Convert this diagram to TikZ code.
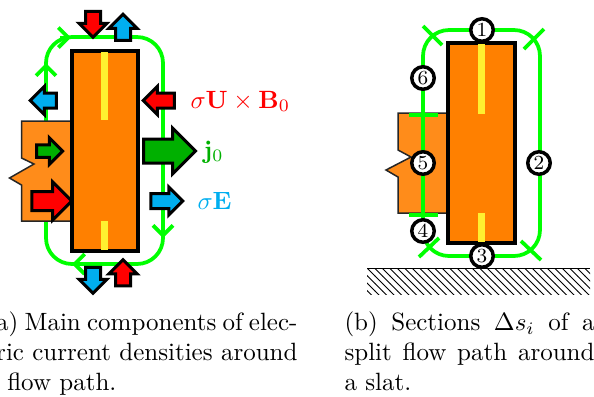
\documentclass[tikz,border=0pt]{standalone}
\usepackage{amsmath}
\usetikzlibrary{arrows.meta,shapes.arrows,patterns}

\definecolor{slatorange}{HTML}{FF8000}
\definecolor{stuborange}{HTML}{FF8C1A}
\definecolor{flowgreen}{HTML}{00FF00}
\definecolor{jgreen}{HTML}{00B000}
\definecolor{eblue}{HTML}{00AEEF}
\definecolor{stripeyellow}{HTML}{FFF030}

\tikzstyle{slat} = [draw=black,line width=1.3pt,fill=slatorange,line join=miter]
\tikzstyle{stub} = [draw=black!85,line width=0.6pt,fill=stuborange]
\tikzstyle{stripe} = [fill=stripeyellow]
\tikzstyle{flow} = [draw=flowgreen,line width=1.5pt]
\tikzstyle{barb} = [flow,-{Straight Barb[length=4pt,width=8pt]}]
\tikzstyle{flux} = [single arrow,draw=black,line width=1.2pt,inner sep=2.4pt,single arrow head extend=2.6pt,minimum height=10.4pt]
\tikzstyle{section} = [circle,draw=black,line width=1.4pt,fill=white,inner sep=0pt,minimum size=9pt,font=\footnotesize]
\tikzstyle{caption} = [anchor=north west,inner sep=0pt,align=justify,font=\normalsize]

\begin{document}
\begin{tikzpicture}[x=0.4pt,y=-0.4pt]
	\clip (0,0) rectangle (594,396);

	\draw[flow,rounded corners=10.4pt] (46,37) rectangle (163,264);
	\draw[barb] (60,37.5) -- (71,37.5);
	\draw[barb] (46,75) -- (46,63);
	\draw[barb] (163,226) -- (163,238);
	\draw[barb] (84,264) -- (72,264);

	\draw[stub] (72,121) -- (21.5,121) -- (21.5,158) -- (34,164) -- (9.5,178) -- (21.5,185) -- (21.5,221) -- (72,221) -- cycle;
	\draw[slat] (72,51) rectangle (138,251);
	\fill[stripe] (101,52) rectangle (108,120);
	\fill[stripe] (101,221) rectangle (108,250);

	\node[flux,fill=red,shape border rotate=270] (adown) at (93,20.5) {};
	\node[flux,fill=eblue,shape border rotate=90] (aup) at (123,31) {};
	\node[flux,fill=eblue,shape border rotate=180] (aleft) at (47,100.5) {};
	\node[flux,fill=red,shape border rotate=180,minimum height=12.4pt] (aright) at (162.5,100.5) {};
	\node[flux,fill=jgreen,minimum height=20.8pt,inner sep=4.2pt,single arrow head extend=4.4pt] (ajet) at (163.5,151) {};
	\node[flux,fill=eblue,minimum height=12.8pt] (afield) at (163,201) {};
	\node[flux,fill=jgreen,inner sep=1.9pt,single arrow head extend=2.8pt] (bjet) at (46.5,151) {};
	\node[flux,fill=red,minimum height=16pt,inner sep=3.2pt,single arrow head extend=3.8pt] (bforce) at (47,201) {};
	\node[flux,fill=eblue,shape border rotate=270] (cdown) at (93,276.5) {};
	\node[flux,fill=red,shape border rotate=90] (cup) at (123,276.5) {};

	\node[text=red,anchor=base west,inner sep=0pt] (lforce) at (190,108) {$\sigma\mathbf{U}\times\mathbf{B}_0$};
	\node[text=jgreen,anchor=base west,inner sep=0pt] (ljet) at (203,158) {$\mathbf{j}_0$};
	\node[text=eblue,anchor=base west,inner sep=0pt] (lfield) at (197,209) {$\sigma\mathbf{E}$};

	\fill[pattern=north west lines] (367,268) rectangle (590,294);
	\draw[line width=0.4pt] (367,268) -- (590,268);

	\draw[stub] (448,113) -- (398,113) -- (398,150) -- (411,157) -- (386,170) -- (398,177) -- (398,213) -- (448,213) -- cycle;
	\draw[flow,rounded corners=10.4pt] (423,30) rectangle (540,256);
	\draw[slat] (448,43) rectangle (515,243);
	\fill[stripe] (478,44) rectangle (485,114);
	\fill[stripe] (478,213) rectangle (485,242);

	\draw[flow] (409,115) -- (438,115);
	\draw[flow] (409,215) -- (438,215);
	\draw[flow] (423,26) -- (442,45);
	\draw[flow] (544,29) -- (524,49);
	\draw[flow] (521,241) -- (541,260);
	\draw[flow] (439,238) -- (419,257);

	\node[section] (s1) at (482,30) {1};
	\node[section] (s2) at (539,163) {2};
	\node[section] (s3) at (482,256) {3};
	\node[section] (s4) at (423,231) {4};
	\node[section] (s5) at (423,163) {5};
	\node[section] (s6) at (423,78) {6};

	\node[caption,text width=124.4pt] (capa) at (-14,311) {(a) Main components of elec-\linebreak tric current densities around a flow path.};
	\node[caption,text width=100pt] (capb) at (344,311) {(b) Sections $\Delta s_i$ of a split flow path around a slat.};
\end{tikzpicture}
\end{document}
